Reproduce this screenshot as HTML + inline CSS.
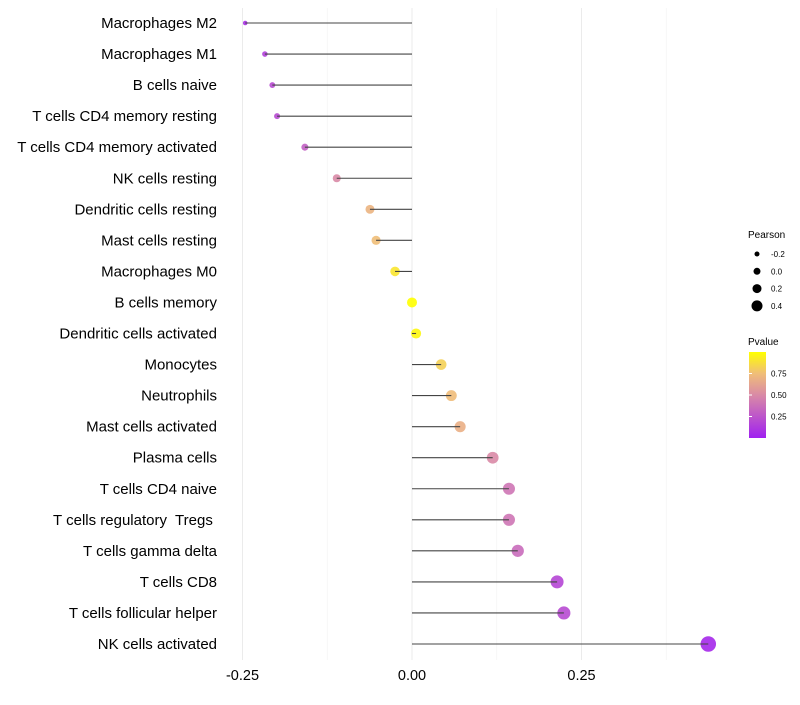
<!DOCTYPE html>
<html><head><meta charset="utf-8"><style>
body{margin:0;background:#fff;font-family:"Liberation Sans",sans-serif}
text{white-space:pre}
</style></head><body>
<svg id="chart" width="800" height="700" xmlns="http://www.w3.org/2000/svg">
<defs><linearGradient id="pg" x1="0" y1="1" x2="0" y2="0">
<stop offset="0" stop-color="#A020F0"/><stop offset="0.5" stop-color="#D98AA6"/><stop offset="0.75" stop-color="#F0BE78"/><stop offset="1" stop-color="#FFFF00"/></linearGradient></defs>
<g id="grid"></g><g id="dots"></g><g id="marks"></g><g id="ylab"></g><g id="xlab"></g>
<g>
<text x="748" y="238" font-size="10">Pearson</text>
<g id="sizeleg"></g>
<text x="748" y="345" font-size="10">Pvalue</text>
<rect x="749" y="352" width="17" height="86" fill="url(#pg)"/>
<g id="cbticks"></g>
</g>
</svg>
<script>
const cells=["Macrophages M2","Macrophages M1","B cells naive","T cells CD4 memory resting","T cells CD4 memory activated","NK cells resting","Dendritic cells resting","Mast cells resting","Macrophages M0","B cells memory","Dendritic cells activated","Monocytes","Neutrophils","Mast cells activated","Plasma cells","T cells CD4 naive","T cells regulatory  Tregs ","T cells gamma delta","T cells CD8","T cells follicular helper","NK cells activated"];
const pearson=[-0.246,-0.217,-0.206,-0.199,-0.158,-0.111,-0.062,-0.053,-0.025,0.000,0.006,0.043,0.058,0.071,0.119,0.143,0.143,0.156,0.214,0.224,0.437];
const pvalue=[0.08,0.15,0.2,0.2,0.3,0.5,0.7,0.75,0.9,1.0,0.97,0.82,0.74,0.68,0.5,0.4,0.4,0.36,0.18,0.2,0.04];
const xTicks=[-0.25,0,0.25];
const xTickLabels=["-0.25","0.00","0.25"];
const sizeVals=[-0.2,0.0,0.2,0.4];
const cbVals=[0.25,0.5,0.75];
const NS="http://www.w3.org/2000/svg";
const X=v=>412+v*678;
const Y=i=>23+i*31.05;
const R=v=>Math.sqrt(Math.max(2.25,25+80*v));
const CB=p=>438-p*86;
function lerp(a,b,t){return a.map((x,i)=>Math.round(x+(b[i]-x)*t));}
const stops=[[0,[160,32,240]],[0.5,[217,138,166]],[0.75,[240,190,120]],[1,[255,255,0]]];
function col(p){for(let i=1;i<stops.length;i++){if(p<=stops[i][0]){const t=(p-stops[i-1][0])/(stops[i][0]-stops[i-1][0]);const c=lerp(stops[i-1][1],stops[i][1],t);return `rgb(${c})`;}}return "rgb(255,255,0)";}
function mk(tag,at,parent){const e=document.createElementNS(NS,tag);for(const k in at)e.setAttribute(k,at[k]);document.getElementById(parent).appendChild(e);return e;}
[-0.125,0.125,0.375].forEach(v=>{const l=mk("line",{x1:X(v),x2:X(v),y1:8,y2:660,stroke:"#f2f2f2","stroke-width":0.6},"grid");

});
xTicks.forEach((v,i)=>{const l=mk("line",{x1:X(v),x2:X(v),y1:8,y2:660,stroke:"#ebebeb","stroke-width":1},"grid");


const t=mk("text",{x:X(v),y:680,"font-size":14.5,"text-anchor":"middle",fill:"#000"},"xlab");t.textContent=xTickLabels[i];

});
cells.forEach((c,i)=>{
const t=mk("text",{x:217,y:Y(i)+5,"font-size":15,"text-anchor":"end",fill:"#000"},"ylab");t.textContent=c;


const d=mk("circle",{cx:X(pearson[i]),cy:Y(i),r:R(pearson[i]),fill:col(pvalue[i]),"fill-opacity":0.9},"dots");


const l=mk("line",{x1:X(0),x2:X(pearson[i]),y1:Y(i),y2:Y(i),stroke:"#444","stroke-width":1.1},"marks");


});
sizeVals.forEach((v,i)=>{const y=254+i*17.3;
const d=mk("circle",{cx:757,cy:y,r:3.5+v*5,fill:"#000"},"sizeleg");


const t=mk("text",{x:771,y:y+3,"font-size":8},"sizeleg");t.textContent=v.toFixed(1);

});
cbVals.forEach(p=>{const y=CB(p);
const l=mk("line",{x1:749,x2:752,y1:y,y2:y,stroke:"#fff"},"cbticks");


const t=mk("text",{x:771,y:y+3,"font-size":8},"cbticks");t.textContent=p.toFixed(2);

});
</script>
</body></html>
